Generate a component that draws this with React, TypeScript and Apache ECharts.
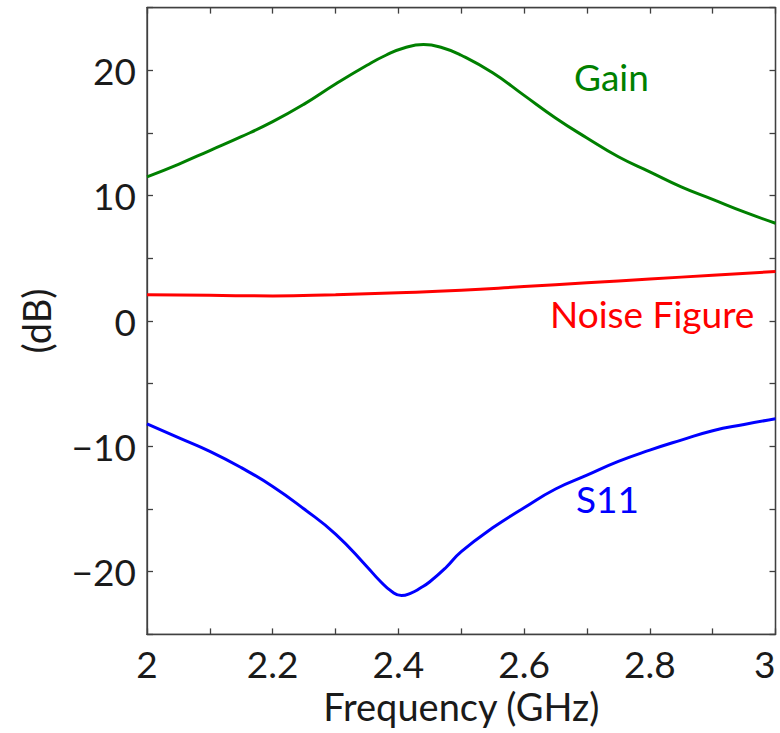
import React, { useEffect, useRef } from "react";
import * as echarts from "echarts";

const gainFreq = [2.0, 2.05, 2.1, 2.15, 2.2, 2.25, 2.3, 2.35, 2.38, 2.41, 2.44, 2.47, 2.5, 2.55, 2.6, 2.65, 2.7, 2.75, 2.8, 2.85, 2.9, 2.95, 3.0];
const gainDb = [11.5, 12.5, 13.6, 14.7, 15.9, 17.3, 18.9, 20.4, 21.2, 21.8, 22.05, 21.8, 21.2, 19.8, 18.0, 16.2, 14.6, 13.1, 11.9, 10.7, 9.7, 8.7, 7.8];

const nfFreq = [2.0, 2.1, 2.2, 2.3, 2.4, 2.5, 2.6, 2.7, 2.8, 2.9, 3.0];
const nfDb = [2.1, 2.05, 2.0, 2.1, 2.25, 2.45, 2.75, 3.05, 3.35, 3.65, 3.95];

const s11Freq = [2.0, 2.05, 2.1, 2.15, 2.2, 2.25, 2.3, 2.35, 2.37, 2.39, 2.405, 2.42, 2.435, 2.45, 2.475, 2.5, 2.55, 2.6, 2.65, 2.7, 2.75, 2.8, 2.85, 2.9, 2.95, 3.0];
const s11Db = [-8.2, -9.3, -10.4, -11.7, -13.2, -15.0, -17.0, -19.6, -20.7, -21.6, -21.9, -21.7, -21.3, -20.8, -19.7, -18.4, -16.5, -14.9, -13.4, -12.3, -11.2, -10.3, -9.5, -8.75, -8.25, -7.8];

const FONT = "Lato";
const AXIS_COLOR = "#404040";
const TEXT_COLOR = "#1a1a1a";

function pairs(xs: number[], ys: number[]) {
  return xs.map((x, i) => [x, ys[i]]);
}

export default function App() {
  const ref = useRef<HTMLDivElement>(null);
  useEffect(() => {
    if (!ref.current) return;
    const chart = echarts.init(ref.current, undefined, { renderer: "svg" });
    const mkLine = () => ({ show: true, onZero: false, lineStyle: { color: AXIS_COLOR, width: 1.3 } });
    const mkTick = () => ({ show: true, inside: true, length: 6, lineStyle: { color: AXIS_COLOR, width: 1.3 } });
    const xLabel = (v: number) => {
      const k = Math.round(v * 10);
      if (k % 2 !== 0) return "";
      return String(Math.round(v * 10) / 10);
    };
    const yLabel = (v: number) => {
      const k = Math.round(v);
      if (k % 10 !== 0) return "";
      return k < 0 ? "\u2212" + Math.abs(k) : String(k);
    };
    chart.setOption({
      animation: false,
      backgroundColor: "#ffffff",
      grid: {
        left: 147, right: 4.5, top: 7.6, bottom: 98.6, outerBoundsMode: "none", containLabel: false,
        show: true, borderColor: AXIS_COLOR, borderWidth: 1.3, backgroundColor: "transparent",
      },
      xAxis: [
        {
          type: "value", min: 2, max: 3, interval: 0.1, position: "bottom",
          axisLine: mkLine(), axisTick: mkTick(), splitLine: { show: false },
          axisLabel: { formatter: xLabel, color: TEXT_COLOR, fontFamily: FONT, fontSize: 37, margin: 11, showMinLabel: true, showMaxLabel: true, alignMaxLabel: "right" },
          name: "Frequency (GHz)", nameLocation: "middle", nameGap: 52,
          nameTextStyle: { color: TEXT_COLOR, fontFamily: FONT, fontSize: 38 },
        },
        {
          type: "value", min: 2, max: 3, interval: 0.1, position: "top",
          axisLine: mkLine(), axisTick: mkTick(), splitLine: { show: false }, axisLabel: { show: false },
        },
      ],
      yAxis: [
        {
          type: "value", min: -25, max: 25, interval: 5, position: "left",
          axisLine: mkLine(), axisTick: mkTick(), splitLine: { show: false },
          axisLabel: { formatter: yLabel, color: TEXT_COLOR, fontFamily: FONT, fontSize: 37, margin: 11 },
          name: "(dB)", nameLocation: "middle", nameGap: 92, nameRotate: 90,
          nameTextStyle: { color: TEXT_COLOR, fontFamily: FONT, fontSize: 38 },
        },
        {
          type: "value", min: -25, max: 25, interval: 5, position: "right",
          axisLine: mkLine(), axisTick: mkTick(), splitLine: { show: false }, axisLabel: { show: false },
        },
      ],
      series: [
        {
          name: "Gain", type: "line", data: pairs(gainFreq, gainDb), showSymbol: false,
          smooth: 0.5, lineStyle: { color: "#008000", width: 3 }, itemStyle: { color: "#008000" },
        },
        {
          name: "Noise Figure", type: "line", data: pairs(nfFreq, nfDb), showSymbol: false,
          smooth: 0.5, lineStyle: { color: "#ff0000", width: 3 }, itemStyle: { color: "#ff0000" },
        },
        {
          name: "S11", type: "line", data: pairs(s11Freq, s11Db), showSymbol: false,
          smooth: 0.5, lineStyle: { color: "#0000ff", width: 3 }, itemStyle: { color: "#0000ff" },
        },
      ],
      graphic: [
        { type: "text", left: 574, top: 58, style: { text: "Gain", fill: "#008000", font: `37px ${FONT}` } },
        { type: "text", left: 550, top: 295, style: { text: "Noise Figure", fill: "#ff0000", font: `37px ${FONT}` } },
        { type: "text", left: 576, top: 480, style: { text: "S11", fill: "#0000ff", font: `37px ${FONT}` } },
      ],
    });
    return () => chart.dispose();
  }, []);
  return <div ref={ref} style={{ position: "fixed", left: 0, top: 0, width: 780, height: 733 }} />;
}
